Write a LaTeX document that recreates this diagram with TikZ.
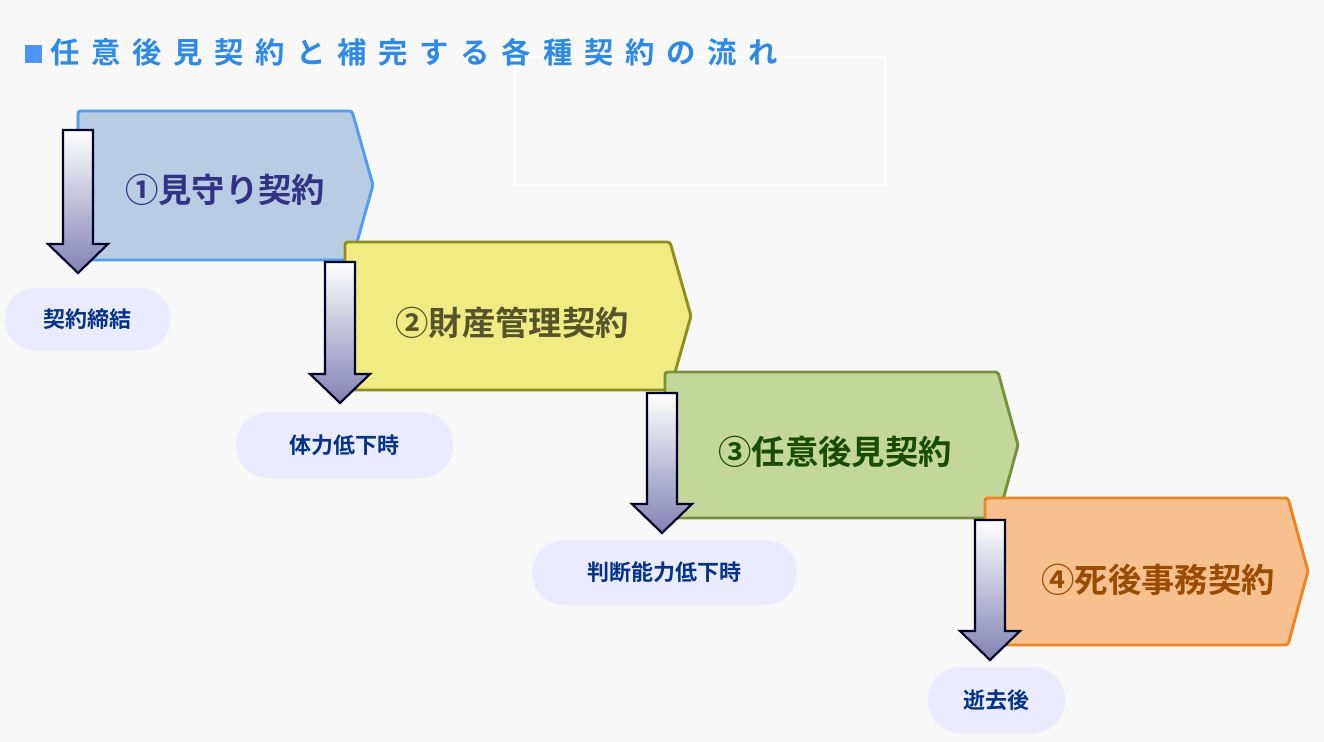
\documentclass[tikz,border=0pt]{standalone}
\usepackage{fontspec}
\setmainfont{Noto Sans CJK JP}
\newfontfamily\jpb{Noto Sans CJK JP Bold}
\newfontfamily\jpt[LetterSpace=40]{Noto Sans CJK JP Bold}
\begin{document}
\begin{tikzpicture}[x=0.75pt,y=-0.75pt,
 chev/.style={line width=2.2pt,rounded corners=2pt},
 darr/.style={draw=black!60!blue!40!black,line width=1.6pt,top color=white,bottom color=black!30!blue!40!gray!70,line join=miter},
 lab/.style={fill=blue!8!white,text=blue!40!black!80!cyan,font=\jpb\fontsize{16.5pt}{18pt}\selectfont,inner sep=0pt},
 ctext/.style={font=\jpb\fontsize{25pt}{28pt}\selectfont,anchor=center}]
\definecolor{bg}{HTML}{F8F8F8}
\fill[bg] (0,0) rectangle (1324,742);
\useasboundingbox (0,0) rectangle (1324,742);
\draw[white,line width=0.8pt] (515,57) rectangle (885,185);
% title
\fill[blue!60!cyan!70] (25,45) rectangle (42,63);
\node[anchor=west,text=blue!50!cyan!80!white!90!black,font=\jpt\fontsize{22pt}{24pt}\selectfont,inner sep=0pt] (title) at (50,52) {任意後見契約と補完する各種契約の流れ};
% chevrons
\definecolor{f1}{HTML}{B8CCE4}\definecolor{b1}{HTML}{4F9CF0}
\definecolor{f2}{HTML}{F0EB82}\definecolor{b2}{HTML}{8E8E1A}
\definecolor{f3}{HTML}{C4D79B}\definecolor{b3}{HTML}{76923C}
\definecolor{f4}{HTML}{F9C08F}\definecolor{b4}{HTML}{EE8424}
\draw[chev,fill=f1,draw=b1] (78,111) -- (352,111) -- (373,185) -- (352,260) -- (78,260) -- cycle;
\draw[chev,fill=f2,draw=b2] (345,242) -- (670,242) -- (691,316) -- (670,390) -- (345,390) -- cycle;
\draw[chev,fill=f3,draw=b3] (665,372) -- (998,372) -- (1018,445) -- (998,518) -- (665,518) -- cycle;
\draw[chev,fill=f4,draw=b4] (985,498) -- (1288,498) -- (1308,571) -- (1288,645) -- (985,645) -- cycle;
\node[ctext,text=blue!40!black!80] (c1) at (225,190) {①見守り契約};
\node[ctext,text=olive!50!black] (c2) at (512,323) {②財産管理契約};
\node[ctext,text=green!25!black!80!olive] (c3) at (835,452) {③任意後見契約};
\node[ctext,text=orange!60!black] (c4) at (1158,580) {④死後事務契約};
% down arrows
\foreach \cx/\yt/\yb in {78/130/273, 340/262/403, 662/393/533, 990/520/660}{
 \draw[darr] (\cx-15,\yt) -- (\cx+15,\yt) -- (\cx+15,\yb-29) -- (\cx+30,\yb-29) -- (\cx,\yb) -- (\cx-30,\yb-29) -- (\cx-15,\yb-29) -- cycle;
}
% labels
\node[lab,minimum width=165*0.75pt,minimum height=62*0.75pt,rounded corners=22pt] (l1) at (87.5,319) {契約締結};
\node[lab,minimum width=217*0.75pt,minimum height=66*0.75pt,rounded corners=24pt] (l2) at (344.5,445) {体力低下時};
\node[lab,minimum width=265*0.75pt,minimum height=65*0.75pt,rounded corners=24pt] (l3) at (664.5,572.5) {判断能力低下時};
\node[lab,minimum width=137*0.75pt,minimum height=66*0.75pt,rounded corners=24pt] (l4) at (996.5,700) {逝去後};
\end{tikzpicture}
\end{document}
